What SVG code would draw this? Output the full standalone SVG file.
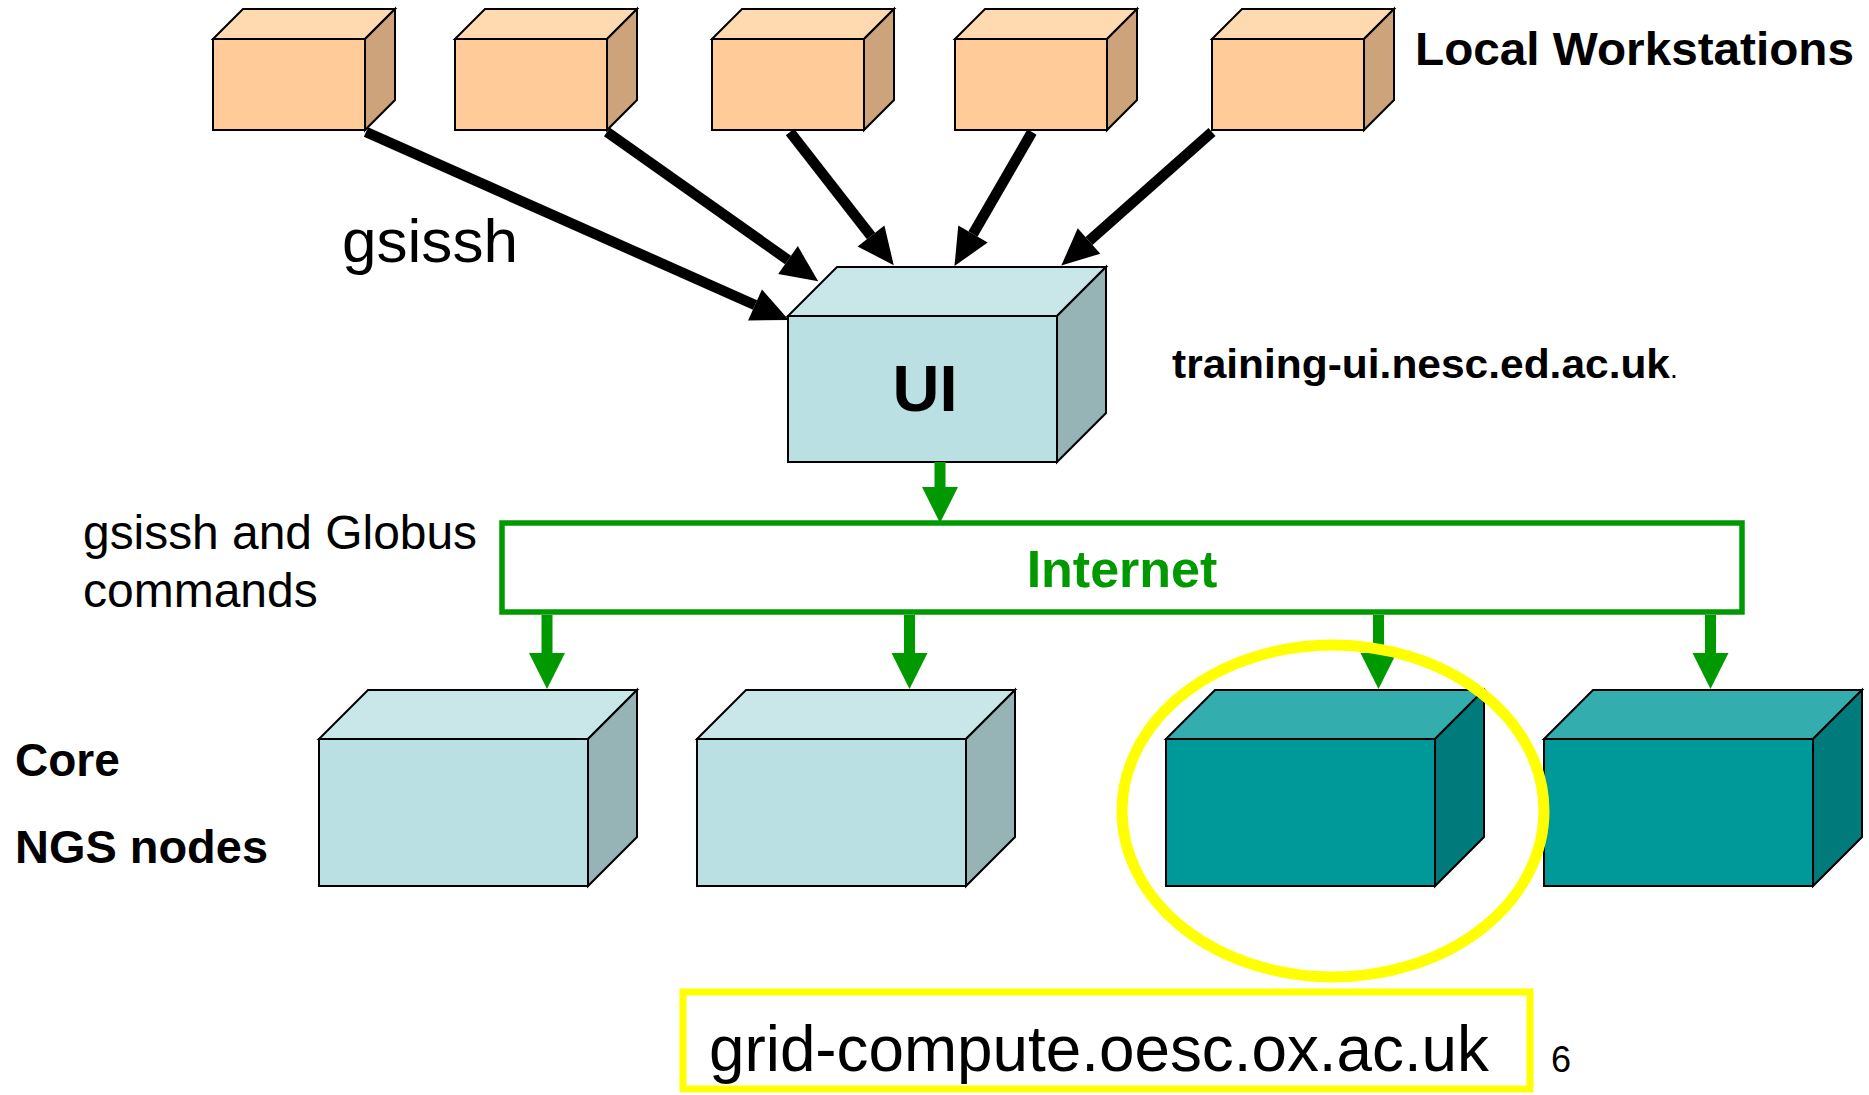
<svg xmlns="http://www.w3.org/2000/svg" width="1869" height="1095" viewBox="0 0 1869 1095">
<style>
  .edge{stroke:#000;stroke-width:2;stroke-linejoin:miter}
  .ws-front{fill:#FFCC99}.ws-top{fill:#FFD9B0}.ws-side{fill:#CCA37A}
  .lc-front{fill:#BBE0E3}.lc-top{fill:#C9E6E8}.lc-side{fill:#96B3B6}
  .tl-front{fill:#009999}.tl-top{fill:#33ADAD}.tl-side{fill:#007A7A}
  .blk{stroke:#000;stroke-width:10.5;fill:none;marker-end:url(#bh)}
  .grn{stroke:#009900;stroke-width:11;fill:none;marker-end:url(#gh)}
  text{font-family:"Liberation Sans",Arial,sans-serif}
  .b{font-weight:bold}
</style>
<defs>
  <marker id="bh" markerUnits="userSpaceOnUse" viewBox="0 -17 37 34" markerWidth="37" markerHeight="34" refX="0" refY="0" orient="auto" overflow="visible">
    <path d="M0,-17 L37,0 L0,17 Z" fill="#000"/>
  </marker>
  <marker id="gh" markerUnits="userSpaceOnUse" viewBox="0 -18 36 36" markerWidth="36" markerHeight="36" refX="0" refY="0" orient="auto" overflow="visible">
    <path d="M0,-18 L36,0 L0,18 Z" fill="#009900"/>
  </marker>
</defs>
<rect width="1869" height="1095" fill="#fff"/>

<!-- Local workstations -->
<g id="ws1"><rect class="ws-front edge" x="213" y="39" width="152" height="91"/><polygon class="ws-top edge" points="213,39 243,9 395,9 365,39"/><polygon class="ws-side edge" points="365,39 395,9 395,100 365,130"/></g>
<g id="ws2"><rect class="ws-front edge" x="455" y="39" width="152" height="91"/><polygon class="ws-top edge" points="455,39 485,9 637,9 607,39"/><polygon class="ws-side edge" points="607,39 637,9 637,100 607,130"/></g>
<g id="ws3"><rect class="ws-front edge" x="712" y="39" width="152" height="91"/><polygon class="ws-top edge" points="712,39 742,9 894,9 864,39"/><polygon class="ws-side edge" points="864,39 894,9 894,100 864,130"/></g>
<g id="ws4"><rect class="ws-front edge" x="955" y="39" width="152" height="91"/><polygon class="ws-top edge" points="955,39 985,9 1137,9 1107,39"/><polygon class="ws-side edge" points="1107,39 1137,9 1137,100 1107,130"/></g>
<g id="ws5"><rect class="ws-front edge" x="1212" y="39" width="152" height="91"/><polygon class="ws-top edge" points="1212,39 1242,9 1394,9 1364,39"/><polygon class="ws-side edge" points="1364,39 1394,9 1394,100 1364,130"/></g>

<!-- UI -->
<g id="ui">
  <rect class="lc-front edge" x="788" y="316" width="269" height="146"/>
  <polygon class="lc-top edge" points="788,316 837,267 1106,267 1057,316"/>
  <polygon class="lc-side edge" points="1057,316 1106,267 1106,413 1057,462"/>
  <text class="b" x="925" y="411" font-size="65" text-anchor="middle">UI</text>
</g>

<!-- Internet -->
<g id="internet">
  <rect x="502" y="523" width="1240" height="89" fill="none" stroke="#009900" stroke-width="5.5"/>
  <text class="b" x="1122" y="587" font-size="52" fill="#009900" text-anchor="middle">Internet</text>
</g>

<!-- Core NGS nodes -->
<g id="node1"><rect class="lc-front edge" x="319" y="739" width="269" height="147"/><polygon class="lc-top edge" points="319,739 368,690 637,690 588,739"/><polygon class="lc-side edge" points="588,739 637,690 637,837 588,886"/></g>
<g id="node2"><rect class="lc-front edge" x="697" y="739" width="269" height="147"/><polygon class="lc-top edge" points="697,739 746,690 1015,690 966,739"/><polygon class="lc-side edge" points="966,739 1015,690 1015,837 966,886"/></g>
<g id="node3"><rect class="tl-front edge" x="1166" y="739" width="269" height="147"/><polygon class="tl-top edge" points="1166,739 1215,690 1484,690 1435,739"/><polygon class="tl-side edge" points="1435,739 1484,690 1484,837 1435,886"/></g>
<g id="node4"><rect class="tl-front edge" x="1544" y="739" width="269" height="147"/><polygon class="tl-top edge" points="1544,739 1593,690 1862,690 1813,739"/><polygon class="tl-side edge" points="1813,739 1862,690 1862,837 1813,886"/></g>

<!-- Connectors -->
<g id="connectors">
  <line class="blk" x1="366" y1="132" x2="755" y2="305"/>
  <line class="blk" x1="607" y1="132" x2="788" y2="260"/>
  <line class="blk" x1="790" y1="132" x2="871" y2="236"/>
  <line class="blk" x1="1032" y1="132" x2="973" y2="234"/>
  <line class="blk" x1="1212" y1="132" x2="1089" y2="241"/>
  <line class="grn" x1="940" y1="462" x2="940" y2="487"/>
  <line class="grn" x1="547" y1="615" x2="547" y2="653"/>
  <line class="grn" x1="909.5" y1="615" x2="909.5" y2="653"/>
  <line class="grn" x1="1378.5" y1="615" x2="1378.5" y2="653"/>
  <line class="grn" x1="1710.5" y1="615" x2="1710.5" y2="653"/>
</g>

<!-- Highlight -->
<g id="highlight">
  <ellipse cx="1333" cy="811" rx="211" ry="166" fill="none" stroke="#FFFF00" stroke-width="11"/>
  <rect x="683" y="992" width="847" height="97" fill="none" stroke="#FFFF00" stroke-width="7"/>
</g>

<!-- Labels -->
<g id="labels">
  <text class="b" x="1415" y="65" font-size="46" textLength="439" lengthAdjust="spacingAndGlyphs">Local Workstations</text>
  <text x="342" y="262" font-size="62" textLength="176" lengthAdjust="spacingAndGlyphs">gsissh</text>
  <text x="1172" y="378" font-size="41"><tspan class="b" textLength="498" lengthAdjust="spacingAndGlyphs">training-ui.nesc.ed.ac.uk</tspan><tspan font-size="28">.</tspan></text>
  <text x="83" y="549" font-size="48" textLength="394" lengthAdjust="spacingAndGlyphs">gsissh and Globus</text>
  <text x="83" y="607" font-size="48">commands</text>
  <text class="b" x="15" y="776" font-size="46">Core</text>
  <text class="b" x="15" y="863" font-size="46" textLength="253" lengthAdjust="spacingAndGlyphs">NGS nodes</text>
  <text x="709" y="1071" font-size="65" textLength="780" lengthAdjust="spacingAndGlyphs">grid-compute.oesc.ox.ac.uk</text>
  <text x="1551" y="1072" font-size="36">6</text>
</g>
</svg>
